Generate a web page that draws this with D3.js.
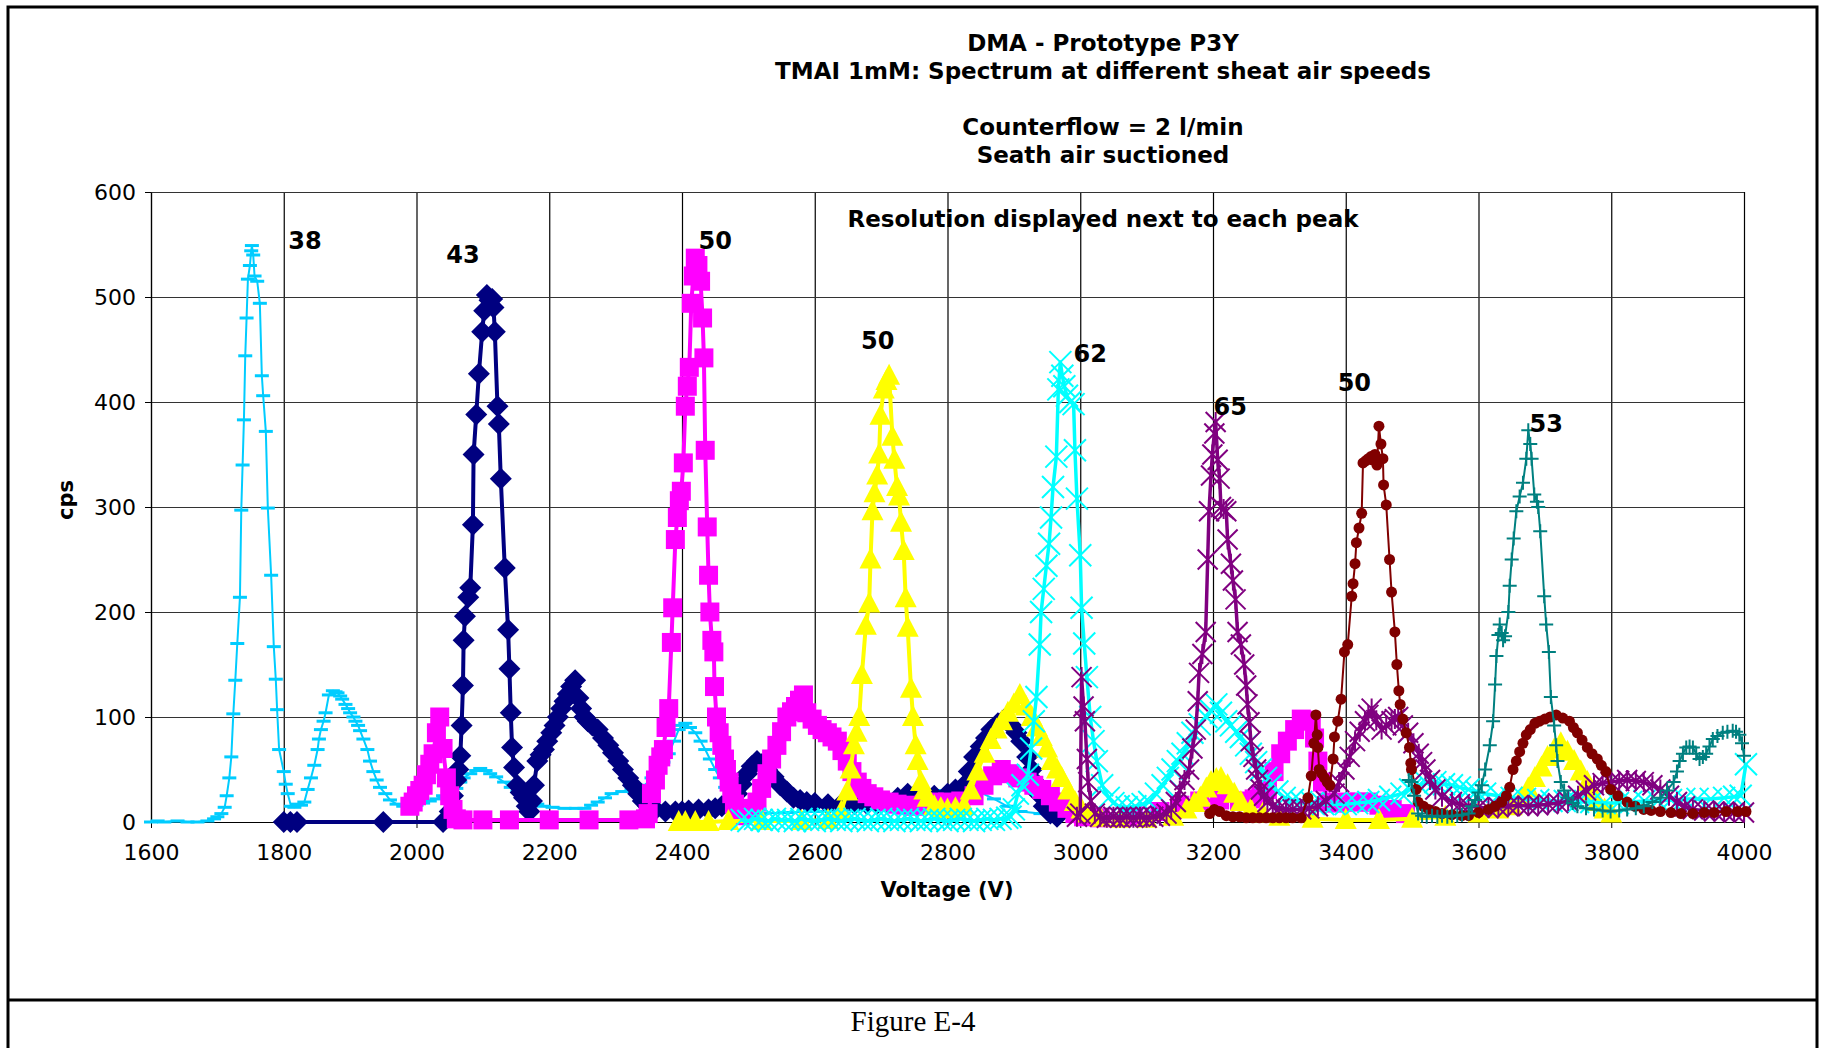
<!DOCTYPE html>
<html>
<head>
<meta charset="utf-8">
<script src="https://cdn.jsdelivr.net/npm/d3@7"></script>
<style>
body { margin: 0; background: #fff; }
</style>
</head>
<body>
<div id="chart"></div>
<script>
// tick values
var xTicks = [1600, 1800, 2000, 2200, 2400, 2600, 2800, 3000, 3200, 3400, 3600, 3800, 4000];
var yTicks = [0, 100, 200, 300, 400, 500, 600];

// series: [voltage, cps]
var skyBlue = [[1600,0],[1610,1],[1620,0],[1640,1],[1655,0],[1670,0],[1685,1],[1695,3],[1700,5],[1706,8],[1711,14],[1714,25],[1718,42],[1721,62],[1724,103],[1727,135],[1730,170],[1734,214],[1736,297],[1738,340],[1740,383],[1742,444],[1744,480],[1746,517],[1749,530],[1751,544],[1752,549],[1754,540],[1756,520],[1760,515],[1764,494],[1767,425],[1769,406],[1773,372],[1776,299],[1781,235],[1785,167],[1788,136],[1790,107],[1793,69],[1800,48],[1803,36],[1806,27],[1811,15],[1816,14],[1821,17],[1826,16],[1831,19],[1836,31],[1841,42],[1846,54],[1851,69],[1853,79],[1856,88],[1860,96],[1863,104],[1868,121],[1874,125],[1878,124],[1881,123],[1885,120],[1888,117],[1893,112],[1897,108],[1900,104],[1905,100],[1908,96],[1912,92],[1915,87],[1920,79],[1926,69],[1930,58],[1935,48],[1940,40],[1945,33],[1953,27],[1960,21],[1970,17],[1980,15],[1990,14],[2000,16],[2010,18],[2020,20],[2030,22],[2040,25],[2050,27],[2060,32],[2066,38],[2071,42],[2081,46],[2090,49],[2096,51],[2104,49],[2111,46],[2120,43],[2132,38],[2142,33],[2152,29],[2162,24],[2172,19],[2182,17],[2192,15],[2205,14],[2223,13],[2240,13],[2253,13],[2263,16],[2273,19],[2284,23],[2294,27],[2310,29],[2324,31],[2334,33],[2344,35],[2354,42],[2364,50],[2372,57],[2380,65],[2388,77],[2395,88],[2400,92],[2405,94],[2412,90],[2420,85],[2428,77],[2435,69],[2442,60],[2450,50],[2457,42],[2465,33],[2472,25],[2480,17],[2490,10],[2500,8],[2520,8],[2560,9],[2600,10],[2640,11],[2680,12],[2720,14],[2750,20],[2770,27],[2790,30],[2810,31],[2830,30],[2850,28],[2870,22],[2890,15],[2910,10],[2940,8]];

var navy = [[1800,0],[1810,0],[1820,0],[1950,0],[2040,0],[2050,10],[2055,25],[2060,40],[2063,50],[2066,63],[2068,92],[2070,130],[2071,173],[2073,196],[2078,214],[2081,223],[2085,283],[2086,350],[2090,388],[2094,427],[2099,467],[2102,487],[2106,502],[2110,497],[2114,498],[2116,490],[2118,467],[2122,396],[2124,379],[2127,327],[2133,242],[2138,183],[2140,146],[2142,104],[2144,71],[2147,52],[2152,35],[2157,28],[2162,23],[2166,15],[2170,10],[2174,20],[2177,35],[2182,58],[2187,64],[2192,69],[2197,77],[2203,85],[2208,92],[2213,100],[2218,108],[2223,115],[2228,122],[2233,129],[2239,135],[2244,118],[2248,108],[2253,100],[2258,96],[2265,92],[2273,88],[2281,80],[2289,73],[2296,66],[2304,58],[2311,50],[2319,42],[2326,35],[2334,27],[2341,20],[2349,15],[2360,12],[2375,10],[2390,10],[2400,10],[2410,11],[2425,12],[2440,12],[2450,13],[2460,15],[2470,20],[2483,27],[2490,36],[2498,46],[2505,53],[2513,58],[2520,55],[2528,50],[2538,43],[2548,35],[2558,29],[2568,23],[2578,21],[2588,19],[2600,18],[2620,17],[2640,17],[2660,17],[2679,17],[2695,18],[2709,19],[2725,23],[2740,27],[2750,25],[2760,23],[2780,25],[2800,27],[2812,31],[2825,35],[2832,48],[2840,62],[2850,72],[2858,80],[2866,88],[2876,94],[2886,98],[2896,92],[2904,85],[2911,77],[2920,62],[2927,50],[2932,38],[2937,27],[2945,15],[2955,8],[2965,5]];

var magenta = [[1990,15],[1995,19],[2000,25],[2005,30],[2010,35],[2015,45],[2020,55],[2025,65],[2030,85],[2035,100],[2040,70],[2045,42],[2050,25],[2055,12],[2060,3],[2070,2],[2100,2],[2140,2],[2200,2],[2260,2],[2320,2],[2345,3],[2349,8],[2354,27],[2360,40],[2364,54],[2368,62],[2372,69],[2376,90],[2380,108],[2384,171],[2386,204],[2390,269],[2393,290],[2396,306],[2399,315],[2402,342],[2405,396],[2408,415],[2411,433],[2414,494],[2417,520],[2420,537],[2424,530],[2428,515],[2431,480],[2433,442],[2435,354],[2438,281],[2440,235],[2442,200],[2445,173],[2448,162],[2449,129],[2452,100],[2456,85],[2460,73],[2464,60],[2467,50],[2471,38],[2475,27],[2479,17],[2483,8],[2490,6],[2498,8],[2505,13],[2513,19],[2520,32],[2528,46],[2535,60],[2543,73],[2550,86],[2558,100],[2565,105],[2571,110],[2577,116],[2583,121],[2588,104],[2596,98],[2604,92],[2611,88],[2619,85],[2626,81],[2634,77],[2641,68],[2649,58],[2656,48],[2664,38],[2671,32],[2679,27],[2689,24],[2699,21],[2712,19],[2724,17],[2737,16],[2750,15],[2765,17],[2780,19],[2800,19],[2820,20],[2840,25],[2855,35],[2868,44],[2881,50],[2894,46],[2906,42],[2920,38],[2930,35],[2942,31],[2955,25],[2967,19],[2980,13],[2992,8],[3005,5],[3030,4],[3080,6],[3120,10],[3150,16],[3180,20],[3210,21],[3240,20],[3262,22],[3272,26],[3282,31],[3292,48],[3302,65],[3312,77],[3323,88],[3333,98],[3340,97],[3348,96],[3353,80],[3358,58],[3365,38],[3373,19],[3385,18],[3400,19],[3420,19],[3434,19],[3450,16],[3470,12],[3490,8]];

var yellow = [[2395,0],[2405,0],[2420,0],[2440,0],[2470,1],[2520,1],[2580,1],[2620,2],[2640,10],[2649,29],[2654,50],[2659,73],[2663,85],[2667,100],[2671,140],[2677,187],[2682,208],[2684,250],[2687,296],[2690,313],[2694,330],[2697,350],[2699,387],[2704,412],[2708,420],[2712,425],[2717,367],[2720,345],[2724,319],[2727,310],[2730,285],[2734,258],[2737,213],[2740,185],[2745,127],[2748,100],[2752,73],[2755,58],[2760,38],[2765,30],[2770,23],[2780,15],[2790,13],[2800,12],[2812,13],[2825,15],[2835,30],[2845,48],[2856,65],[2865,78],[2874,88],[2882,96],[2891,104],[2900,112],[2909,121],[2918,110],[2927,100],[2935,90],[2942,81],[2950,70],[2957,58],[2965,50],[2972,42],[2982,30],[2992,19],[3002,12],[3012,8],[3030,4],[3060,3],[3100,3],[3140,5],[3160,12],[3172,18],[3181,23],[3190,32],[3197,38],[3205,41],[3212,42],[3222,35],[3232,27],[3242,19],[3257,12],[3275,8],[3300,5],[3350,3],[3400,2],[3450,2],[3500,3],[3550,5],[3600,8],[3630,12],[3650,15],[3665,23],[3675,32],[3685,42],[3695,52],[3704,62],[3714,69],[3724,75],[3734,67],[3744,58],[3754,48],[3764,38],[3772,28],[3779,19],[3790,12],[3800,8]];

var cyan = [[2490,2],[2500,1],[2510,3],[2520,2],[2530,1],[2540,3],[2550,2],[2560,2],[2570,1],[2580,3],[2590,2],[2600,1],[2610,2],[2620,3],[2630,2],[2640,1],[2650,2],[2660,3],[2670,2],[2680,1],[2690,2],[2700,3],[2710,2],[2720,1],[2730,2],[2740,3],[2750,2],[2760,1],[2770,2],[2780,3],[2790,2],[2800,1],[2810,2],[2820,3],[2830,2],[2840,1],[2850,2],[2860,3],[2870,2],[2880,3],[2890,4],[2895,5],[2900,12],[2906,27],[2913,35],[2921,45],[2926,70],[2930,96],[2934,119],[2939,169],[2941,200],[2945,222],[2949,244],[2953,265],[2956,290],[2959,319],[2964,348],[2967,412],[2970,438],[2973,425],[2976,415],[2980,406],[2985,400],[2990,398],[2992,354],[2995,308],[3000,254],[3002,204],[3006,170],[3010,138],[3015,100],[3020,77],[3025,58],[3033,35],[3043,23],[3050,18],[3058,15],[3070,14],[3083,15],[3094,17],[3104,19],[3114,27],[3124,35],[3132,42],[3139,50],[3147,58],[3154,65],[3162,75],[3169,85],[3180,93],[3190,100],[3197,106],[3205,112],[3212,104],[3220,96],[3227,92],[3235,86],[3242,81],[3250,73],[3257,65],[3265,57],[3272,50],[3280,42],[3287,35],[3297,29],[3308,23],[3320,21],[3333,19],[3350,18],[3366,17],[3383,17],[3400,17],[3417,18],[3434,19],[3450,21],[3467,24],[3484,27],[3497,31],[3510,35],[3522,37],[3535,38],[3548,36],[3560,35],[3572,33],[3585,31],[3597,29],[3610,27],[3630,25],[3650,23],[3670,22],[3690,21],[3710,20],[3730,20],[3750,19],[3770,19],[3790,18],[3810,18],[3830,19],[3850,20],[3870,20],[3890,21],[3910,22],[3930,22],[3950,22],[3970,23],[3985,24],[3995,25],[4003,55]];

var purple = [[2995,5],[3000,8],[3002,138],[3005,110],[3007,96],[3010,60],[3012,38],[3016,20],[3022,8],[3030,5],[3040,4],[3050,5],[3060,4],[3070,5],[3080,4],[3090,5],[3100,4],[3110,5],[3120,6],[3130,8],[3137,12],[3144,19],[3150,30],[3157,40],[3164,50],[3169,70],[3174,88],[3177,115],[3179,142],[3184,160],[3189,181],[3192,250],[3194,296],[3197,330],[3199,350],[3202,370],[3204,381],[3207,345],[3210,327],[3212,300],[3216,298],[3220,296],[3222,269],[3227,246],[3230,230],[3234,212],[3237,181],[3242,169],[3247,150],[3250,130],[3252,112],[3255,95],[3257,77],[3261,62],[3265,50],[3268,40],[3272,31],[3277,25],[3282,19],[3290,15],[3300,13],[3310,12],[3320,12],[3333,12],[3345,13],[3358,15],[3370,20],[3383,27],[3390,38],[3398,50],[3406,62],[3414,77],[3421,86],[3429,96],[3434,102],[3439,108],[3446,97],[3454,88],[3461,92],[3469,96],[3474,98],[3479,100],[3486,92],[3494,85],[3502,75],[3510,65],[3515,57],[3520,50],[3527,40],[3535,31],[3545,24],[3560,19],[3572,17],[3585,15],[3600,14],[3615,13],[3630,14],[3645,15],[3660,16],[3675,15],[3690,16],[3705,17],[3720,18],[3735,20],[3750,25],[3762,30],[3774,35],[3787,37],[3799,38],[3812,39],[3824,40],[3837,39],[3849,38],[3862,35],[3874,31],[3887,25],[3899,19],[3911,15],[3923,12],[3940,11],[3955,10],[3970,10],[3985,9],[4000,9]];

var darkRed = [[3195,8],[3202,12],[3210,10],[3220,6],[3230,5],[3240,5],[3250,4],[3260,4],[3270,4],[3280,4],[3290,4],[3300,4],[3310,4],[3320,4],[3333,4],[3343,23],[3348,44],[3352,75],[3355,102],[3357,83],[3358,71],[3360,50],[3364,46],[3368,42],[3372,38],[3376,35],[3381,60],[3383,81],[3388,96],[3393,117],[3398,162],[3403,169],[3409,215],[3411,227],[3414,246],[3416,266],[3420,280],[3424,294],[3426,342],[3430,344],[3434,346],[3438,348],[3440,345],[3444,350],[3447,340],[3450,377],[3453,360],[3456,346],[3457,321],[3461,302],[3466,250],[3469,219],[3474,181],[3477,150],[3480,125],[3482,112],[3486,98],[3491,85],[3496,71],[3498,56],[3499,50],[3506,31],[3509,19],[3517,15],[3525,12],[3535,10],[3545,8],[3560,7],[3575,6],[3585,6],[3600,9],[3615,12],[3625,15],[3635,19],[3642,25],[3647,33],[3652,50],[3657,58],[3662,67],[3667,75],[3672,83],[3678,88],[3685,94],[3692,96],[3700,98],[3708,100],[3717,102],[3727,99],[3737,96],[3743,90],[3749,85],[3756,78],[3764,71],[3771,65],[3779,60],[3785,54],[3792,48],[3799,31],[3810,25],[3824,19],[3836,15],[3849,12],[3860,11],[3874,10],[3890,9],[3905,8],[3923,8],[3940,9],[3955,9],[3973,10],[3990,10],[4003,10]];

var teal = [[3495,40],[3499,38],[3503,25],[3509,8],[3515,6],[3522,5],[3530,6],[3538,5],[3545,6],[3553,5],[3560,6],[3568,6],[3575,7],[3585,8],[3590,15],[3595,21],[3600,28],[3605,35],[3610,50],[3617,73],[3622,96],[3625,131],[3627,158],[3630,178],[3632,188],[3635,180],[3637,173],[3640,177],[3645,200],[3647,225],[3650,250],[3653,270],[3657,296],[3662,310],[3667,323],[3672,346],[3675,373],[3678,360],[3680,346],[3684,312],[3688,305],[3690,300],[3693,277],[3699,215],[3702,188],[3706,162],[3709,119],[3714,92],[3717,73],[3719,58],[3724,38],[3729,30],[3734,23],[3742,18],[3749,15],[3762,13],[3774,12],[3787,11],[3799,10],[3812,11],[3824,12],[3837,13],[3849,15],[3862,19],[3874,23],[3884,30],[3894,38],[3899,48],[3903,58],[3908,65],[3913,71],[3918,72],[3923,71],[3928,65],[3933,60],[3938,62],[3943,65],[3948,72],[3953,79],[3960,82],[3968,85],[3975,86],[3983,87],[3988,86],[3993,83],[3997,75],[4000,63]];

// resolution labels next to each peak
var peakText = ["38", "43", "50", "50", "62", "65", "50", "53"];
var peakV = [1832, 2070, 2450, 2695, 3015, 3226, 3413, 3702];
var peakC = [554, 541, 554, 459, 446, 396, 419, 380];

var titleLines = ["DMA - Prototype P3Y", "TMAI  1mM: Spectrum at different sheat air speeds", "", "Counterflow = 2 l/min", "Seath air suctioned"];

var W = 1824, H = 1048;
var pLeft = 151, pRight = 1744, pTop = 192, pBottom = 822;

var svg = d3.select("#chart").append("svg").attr("width", W).attr("height", H);
svg.append("rect").attr("width", W).attr("height", H).attr("fill", "#fff");

var x = d3.scaleLinear().domain([1600, 4000]).range([pLeft, pRight]);
var y = d3.scaleLinear().domain([0, 600]).range([pBottom, pTop]);

var font = "Verdana, 'DejaVu Sans', sans-serif";

// page frame
svg.append("path")
    .attr("d", "M8,1048 L8,7 L1817,7 L1817,1048")
    .attr("fill", "none").attr("stroke", "#000").attr("stroke-width", 3);
svg.append("line").attr("x1", 8).attr("x2", 1817).attr("y1", 1000).attr("y2", 1000)
    .attr("stroke", "#000").attr("stroke-width", 3);
svg.append("text").attr("x", 913).attr("y", 1031)
    .attr("text-anchor", "middle")
    .style("font-family", "'Liberation Serif', 'Times New Roman', serif")
    .style("font-size", "29px")
    .text("Figure E-4");

// grid
var grid = svg.append("g");
grid.append("g").attr("transform", "translate(0," + pBottom + ")")
    .call(d3.axisBottom(x).tickValues(xTicks).tickSize(-(pBottom - pTop)).tickFormat(""))
    .call(function (g) { g.select(".domain").remove(); g.selectAll("line").attr("stroke", "#000").attr("stroke-width", 1.2); });
grid.append("g").attr("transform", "translate(" + pLeft + ",0)")
    .call(d3.axisLeft(y).tickValues(yTicks).tickSize(-(pRight - pLeft)).tickFormat(""))
    .call(function (g) { g.select(".domain").remove(); g.selectAll("line").attr("stroke", "#333").attr("stroke-width", 1.2); });

// axes
var xAxis = svg.append("g").attr("transform", "translate(0," + pBottom + ")")
    .call(d3.axisBottom(x).tickValues(xTicks).tickFormat(d3.format("d")).tickSize(6).tickSizeOuter(0).tickPadding(16));
var yAxis = svg.append("g").attr("transform", "translate(" + pLeft + ",0)")
    .call(d3.axisLeft(y).tickValues(yTicks).tickFormat(d3.format("d")).tickSize(6).tickSizeOuter(0).tickPadding(9));
[xAxis, yAxis].forEach(function (a) {
    a.select(".domain").attr("stroke", "#000").attr("stroke-width", 1.2);
    a.selectAll("line").attr("stroke", "#000");
    a.selectAll("text").style("font-family", font).style("font-size", "22px").attr("fill", "#000");
});

// markers
var markers = {
    dash: "M-7,0L7,0",
    diamond: "M0,-11L11,0L0,11L-11,0Z",
    square: "M-9.5,-9.5L9.5,-9.5L9.5,9.5L-9.5,9.5Z",
    triangle: "M0,-12L11,9L-11,9Z",
    cross: "M-11,-11L11,11M-11,11L11,-11",
    star: "M-10,-10L10,10M-10,10L10,-10M0,-10L0,10",
    circle: "M5.5,0A5.5,5.5 0 1,1 -5.5,0A5.5,5.5 0 1,1 5.5,0Z",
    plus: "M-7,0L7,0M0,-7L0,7"
};

var series = [
    { data: skyBlue, color: "#00CCFF", width: 2, marker: "dash", fill: false, mw: 3 },
    { data: navy, color: "#000080", width: 4, marker: "diamond", fill: true },
    { data: magenta, color: "#FF00FF", width: 4, marker: "square", fill: true },
    { data: yellow, color: "#FFFF00", width: 4, marker: "triangle", fill: true },
    { data: cyan, color: "#00FFFF", width: 3.5, marker: "cross", fill: false, mw: 2 },
    { data: purple, color: "#800080", width: 3.5, marker: "star", fill: false, mw: 2 },
    { data: darkRed, color: "#800000", width: 2, marker: "circle", fill: true },
    { data: teal, color: "#008080", width: 2, marker: "plus", fill: false, mw: 2 }
];

var line = d3.line()
    .x(function (d) { return x(d[0]); })
    .y(function (d) { return y(d[1]); });

series.forEach(function (s) {
    var g = svg.append("g");
    g.append("path").datum(s.data)
        .attr("d", line)
        .attr("fill", "none")
        .attr("stroke", s.color)
        .attr("stroke-width", s.width)
        .attr("stroke-linejoin", "round");
    g.selectAll(".m").data(s.data).enter().append("path")
        .attr("transform", function (d) { return "translate(" + x(d[0]) + "," + y(d[1]) + ")"; })
        .attr("d", markers[s.marker])
        .attr("fill", s.fill ? s.color : "none")
        .attr("stroke", s.color)
        .attr("stroke-width", s.fill ? 0 : s.mw);
});

// titles
svg.selectAll(".title").data(titleLines).enter().append("text")
    .attr("x", 1103)
    .attr("y", function (d, i) { return 51 + i * 28; })
    .attr("text-anchor", "middle")
    .style("font-family", font).style("font-size", "23px").style("font-weight", "bold")
    .text(function (d) { return d; });

svg.append("text").attr("x", 1103).attr("y", 227)
    .attr("text-anchor", "middle")
    .style("font-family", font).style("font-size", "23px").style("font-weight", "bold")
    .text("Resolution displayed next to each peak");

svg.append("text").attr("x", 947).attr("y", 897)
    .attr("text-anchor", "middle")
    .style("font-family", font).style("font-size", "21px").style("font-weight", "bold")
    .text("Voltage (V)");

svg.append("text")
    .attr("transform", "translate(73,500) rotate(-90)")
    .attr("text-anchor", "middle")
    .style("font-family", font).style("font-size", "21px").style("font-weight", "bold")
    .text("cps");

svg.selectAll(".peak").data(peakText).enter().append("text")
    .attr("x", function (d, i) { return x(peakV[i]); })
    .attr("y", function (d, i) { return y(peakC[i]); })
    .attr("dy", "0.36em")
    .attr("text-anchor", "middle")
    .style("font-family", font).style("font-size", "24px").style("font-weight", "bold")
    .text(function (d) { return d; });
</script>
</body>
</html>
